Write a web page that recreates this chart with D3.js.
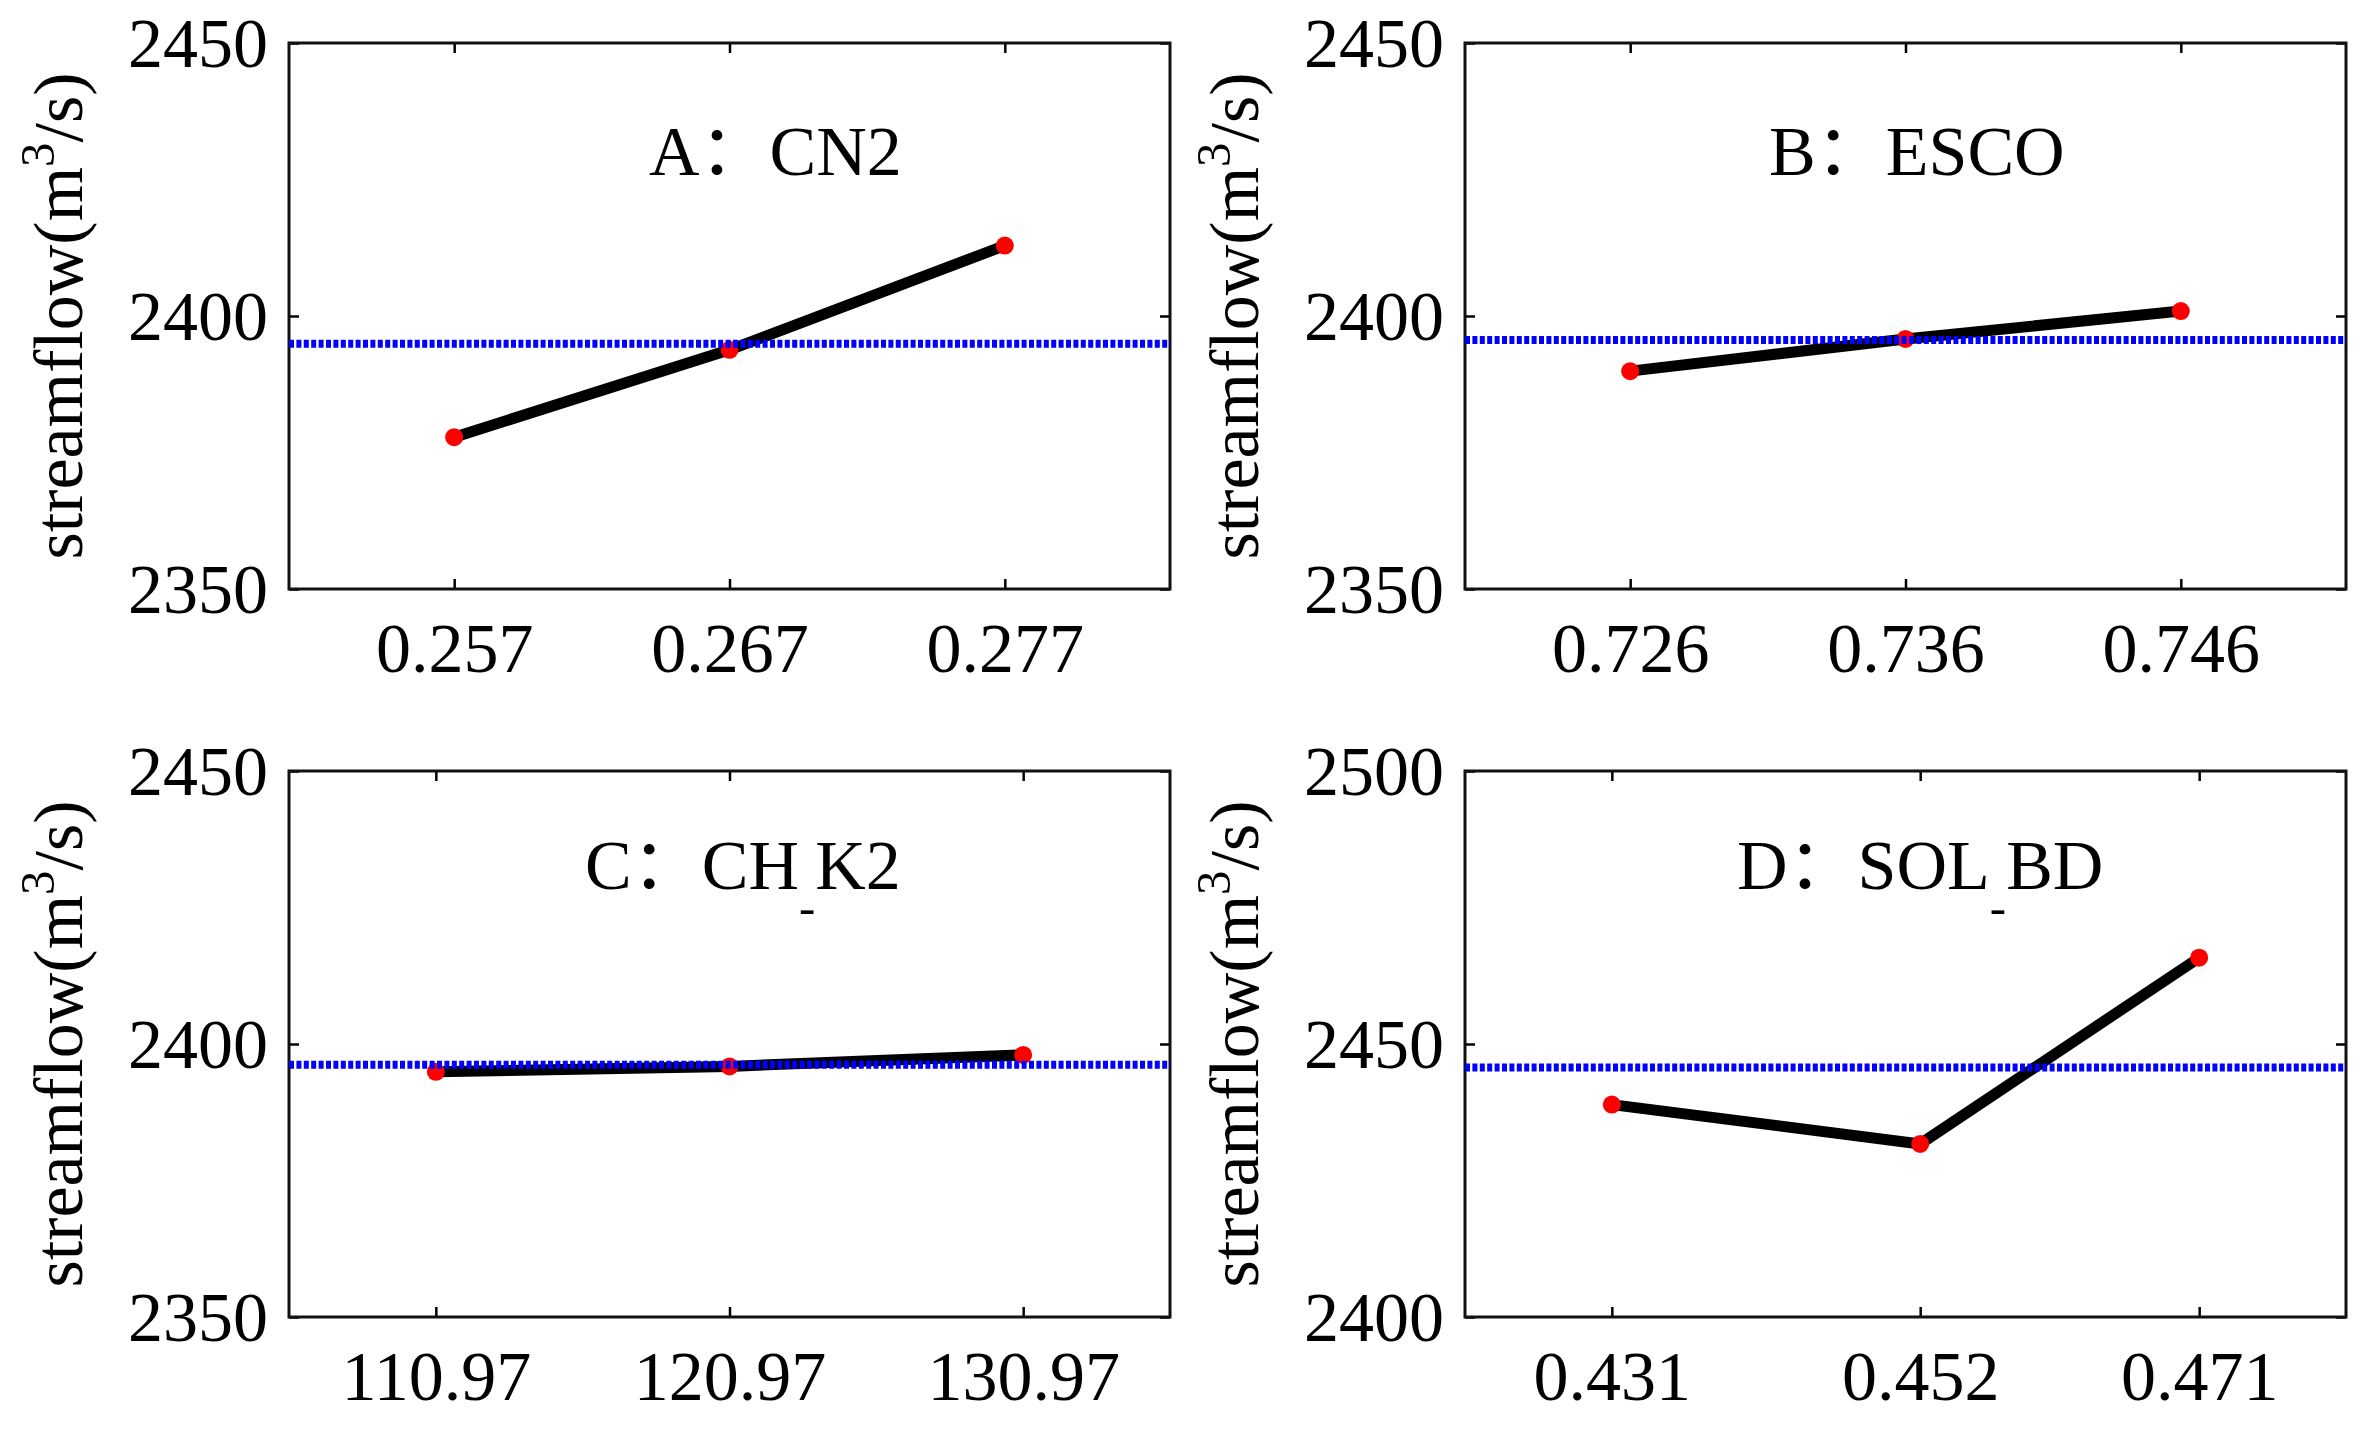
<!DOCTYPE html>
<html>
<head>
<meta charset="utf-8">
<script src="https://cdn.jsdelivr.net/npm/d3@7"></script>
<style>
  body { margin: 0; background: #fff; }
  text { font-family: "Liberation Serif", "Times New Roman", "Noto Sans CJK SC", serif; fill: #000; }
</style>
</head>
<body>
<svg id="svg" width="2371" height="1429"></svg>
<script>
// 各パネルのデータ
const panelNames = ["A", "B", "C", "D"];
const paramNames = [["CN2"], ["ESCO"], ["CH", "K2"], ["SOL", "BD"]];
const xValues = [
  [0.257, 0.267, 0.277],
  [0.726, 0.736, 0.746],
  [110.97, 120.97, 130.97],
  [0.431, 0.452, 0.471]
];
const xLabels = [
  ["0.257", "0.267", "0.277"],
  ["0.726", "0.736", "0.746"],
  ["110.97", "120.97", "130.97"],
  ["0.431", "0.452", "0.471"]
];
const xDomains = [[0.251, 0.283], [0.720, 0.752], [105.97, 135.97], [0.421, 0.481]];
const flowValues = [
  [2377.8, 2393.8, 2412.9],
  [2389.9, 2395.8, 2400.9],
  [2394.9, 2395.9, 2398.0],
  [2438.9, 2431.7, 2465.8]
];
const baseFlow = [2394.9, 2395.6, 2396.2, 2445.7];
const yTicks = [
  [2350, 2400, 2450],
  [2350, 2400, 2450],
  [2350, 2400, 2450],
  [2400, 2450, 2500]
];

// レイアウト
const panelLeft = [289, 1465, 289, 1465];
const panelTop = [43, 43, 771, 771];
const W = 881, H = 546;
const titlePos = [[360, 132], [304, 132], [296, 118], [272, 118]]; // パネル内の位置
const FS = 70;

const svg = d3.select("#svg");

panelNames.forEach((name, i) => {
  const g = svg.append("g").attr("transform", `translate(${panelLeft[i]},${panelTop[i]})`);
  const x = d3.scaleLinear().domain(xDomains[i]).range([0, W]);
  const y = d3.scaleLinear().domain(d3.extent(yTicks[i])).range([H, 0]);

  //軸（内向きの目盛り）
  const fmt = (d) => xLabels[i][xValues[i].indexOf(d)];
  const bottom = g.append("g").attr("transform", `translate(0,${H})`)
    .call(d3.axisBottom(x).tickValues(xValues[i]).tickFormat(fmt).tickSizeInner(-10).tickSizeOuter(0).tickPadding(33));
  const top = g.append("g")
    .call(d3.axisTop(x).tickValues(xValues[i]).tickFormat("").tickSizeInner(-10).tickSizeOuter(0));
  const left = g.append("g")
    .call(d3.axisLeft(y).tickValues(yTicks[i]).tickFormat(d3.format("d")).tickSizeInner(-10).tickSizeOuter(0).tickPadding(21));
  const right = g.append("g").attr("transform", `translate(${W},0)`)
    .call(d3.axisRight(y).tickValues(yTicks[i]).tickFormat("").tickSizeInner(-10).tickSizeOuter(0));
  [bottom, top, left, right].forEach((a) => {
    a.attr("font-family", null).attr("font-size", FS);
    a.select(".domain").remove();
    a.selectAll(".tick line").attr("stroke", "#000").attr("stroke-width", 2.5);
  });
  left.selectAll(".tick text").attr("dy", "0.34em");

  //枠
  g.append("rect").attr("x", 0).attr("y", 0).attr("width", W).attr("height", H)
    .attr("fill", "none").attr("stroke", "#111").attr("stroke-width", 3);

  //折れ線
  const pts = xValues[i].map((v, j) => [v, flowValues[i][j]]);
  g.append("path").datum(pts)
    .attr("d", d3.line().x((d) => x(d[0])).y((d) => y(d[1])))
    .attr("fill", "none").attr("stroke", "#000").attr("stroke-width", 11);
  g.selectAll(".pt").data(pts).join("circle")
    .attr("class", "pt")
    .attr("cx", (d) => x(d[0])).attr("cy", (d) => y(d[1]))
    .attr("r", 9).attr("fill", "#ff0000");

  //基準線（点線）
  g.append("line")
    .attr("x1", 0).attr("x2", W)
    .attr("y1", y(baseFlow[i])).attr("y2", y(baseFlow[i]))
    .attr("stroke", "#0000ff").attr("stroke-width", 8).attr("stroke-dasharray", "5 2.4");

  //タイトル
  const t = g.append("text").attr("x", titlePos[i][0]).attr("y", titlePos[i][1]).attr("font-size", FS);
  t.append("tspan").text(name + "：" + paramNames[i][0]);
  if (paramNames[i].length > 1) {
    t.append("tspan").attr("font-size", FS * 0.7).attr("dy", 35).text("-");
    t.append("tspan").attr("dy", -35).text(paramNames[i][1]);
  }

  //縦軸ラベル
  const yl = g.append("text")
    .attr("transform", `translate(-207,${H / 2}) rotate(-90)`)
    .attr("text-anchor", "middle").attr("font-size", FS);
  yl.append("tspan").text("streamflow(m");
  yl.append("tspan").attr("font-size", FS * 0.7).attr("dy", -28).text("3");
  yl.append("tspan").attr("dy", 28).text("/s)");
});
</script>
</body>
</html>
